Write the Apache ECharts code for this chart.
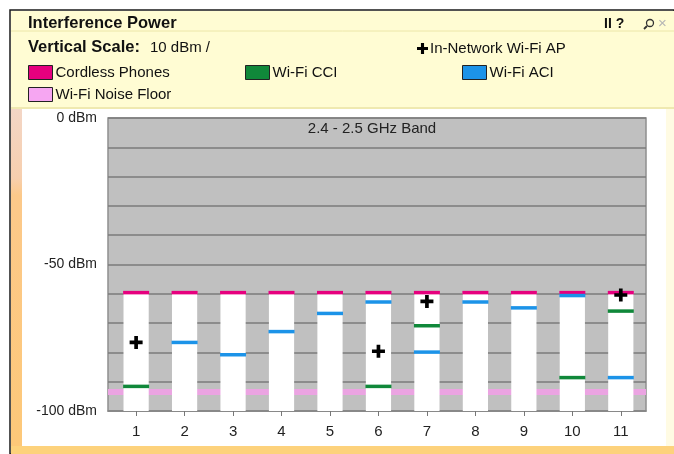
<!DOCTYPE html>
<html>
<head>
<meta charset="utf-8">
<script src="https://cdn.jsdelivr.net/npm/echarts@6/dist/echarts.min.js"></script>
<style>
  html, body { margin: 0; padding: 0; background: #ffffff; }
  #chart { width: 674px; height: 454px; }
</style>
</head>
<body>
<div id="chart"></div>
<script>
// Wi-Fi channels of the 2.4 GHz band
const channels = [1, 2, 3, 4, 5, 6, 7, 8, 9, 10, 11];
// Top of each channel's measured band (dBm)
const bandTop = [-59.6, -59.6, -59.6, -59.6, -59.6, -59.6, -59.6, -59.6, -59.6, -59.6, -59.6];
// Cordless phone interference per channel (dBm)
const cordlessPhones = [-59.6, -59.6, -59.6, -59.6, -59.6, -59.6, -59.6, -59.6, -59.6, -59.6, -59.6];
// Co-channel interference, only where present: [channel, dBm]
const wifiCCI = [[1, -91.6], [6, -91.6], [7, -70.9], [10, -88.6], [11, -65.9]];
// Adjacent-channel interference: [channel, dBm]
const wifiACI = [[2, -76.6], [3, -80.8], [4, -72.9], [5, -66.7], [6, -62.8], [7, -79.9],
                 [8, -62.8], [9, -64.8], [10, -60.6], [11, -88.6]];
// Own access points seen on the band: [channel, dBm]
const inNetworkAP = [[1, -76.6], [6, -79.6], [7, -62.6], [11, -60.4]];
// Noise floor across the band (dBm)
const noiseFloor = -93.5;
// Vertical axis range and labelled ticks
const yMin = -100, yMax = 0, yStep = 10;
const yLabelValues = [0, -50, -100];

const FONT = '"Liberation Sans", Arial, sans-serif';
const PLUS = 'path://M4.3,0H7.7V4.3H12V7.7H7.7V12H4.3V7.7H0V4.3H4.3Z';

const COLORS = {
  cordless: '#e6007e',
  cci: '#10883a',
  aci: '#1c93e8',
  noise: '#eba4e2',
  noiseLegend: '#f6a6f2'
};

const chart = echarts.init(document.getElementById('chart'), null, { renderer: 'canvas' });

const xMin = 0.42, xMax = 11.52;
const barHalf = 0.26;

function legendBox(name, color, left, top) {
  return {
    data: [{ name: name, icon: 'rect', itemStyle: { color: color, opacity: 1, borderColor: '#222', borderWidth: 1 } }],
    left: left, top: top,
    itemWidth: 24, itemHeight: 14, padding: 0,
    selectedMode: false,
    textStyle: { fontFamily: FONT, fontSize: 15, color: '#111', padding: [0, 0, 0, -2] }
  };
}

const option = {
  backgroundColor: '#ffffff',
  animation: false,
  graphic: [
    // panel frame
    { type: 'rect', z: -10, shape: { x: 10, y: 10, width: 664, height: 444 }, style: { fill: '#ffffff', stroke: '#1a1a1a', lineWidth: 1.5 } },
    // header band
    { type: 'rect', z: -9, shape: { x: 11, y: 11, width: 663, height: 97 }, style: { fill: '#fffcd3' } },
    { type: 'line', z: -8, shape: { x1: 11, y1: 31, x2: 674, y2: 31 }, style: { stroke: '#ece6a8', lineWidth: 1 } },
    { type: 'line', z: -8, shape: { x1: 11, y1: 108, x2: 674, y2: 108 }, style: { stroke: '#efe9b0', lineWidth: 2 } },
    // side and bottom strips
    { type: 'rect', z: -9, shape: { x: 11, y: 109, width: 11, height: 345 },
      style: { fill: new echarts.graphic.LinearGradient(0, 0, 0, 1, [
        { offset: 0, color: '#f3d6c6' }, { offset: 0.2, color: '#f7cfae' }, { offset: 0.25, color: '#fcc98a' }, { offset: 1, color: '#fdc878' }]) } },
    { type: 'rect', z: -9, shape: { x: 11, y: 446, width: 663, height: 8 }, style: { fill: '#fdd27c' } },
    { type: 'rect', z: -9, shape: { x: 666, y: 109, width: 8, height: 337 }, style: { fill: '#fffbe3' } },
    // header texts
    { type: 'text', x: 28, y: 15, style: { text: 'Interference Power', font: 'bold 16.5px ' + FONT, fill: '#111' } },
    { type: 'text', x: 28, y: 39, style: { text: 'Vertical Scale:', font: 'bold 16.5px ' + FONT, fill: '#111' } },
    { type: 'text', x: 150, y: 40, style: { text: '10 dBm /', font: '15px ' + FONT, fill: '#111' } },
    { type: 'text', x: 604, y: 17, style: { text: 'II ?', font: 'bold 14px ' + FONT, fill: '#111' } },
    { type: 'circle', shape: { cx: 650, cy: 23, r: 3.5 }, style: { fill: 'none', stroke: '#333', lineWidth: 1.3 } },
    { type: 'line', shape: { x1: 647, y1: 26, x2: 644, y2: 29 }, style: { stroke: '#333', lineWidth: 1.8 } },
    { type: 'text', x: 658, y: 16, style: { text: '×', font: '15px ' + FONT, fill: '#b5b5b5' } },
    // band caption inside plot
    { type: 'text', x: 372, y: 121, style: { text: '2.4 - 2.5 GHz Band', font: '15px ' + FONT, fill: '#222', align: 'center' } }
  ],
  legend: [
    legendBox('Cordless Phones', COLORS.cordless, 28, 65),
    legendBox('Wi-Fi CCI', COLORS.cci, 245, 65),
    legendBox('Wi-Fi ACI', COLORS.aci, 462, 65),
    legendBox('Wi-Fi Noise Floor', COLORS.noiseLegend, 28, 87),
    {
      data: [{ name: 'In-Network Wi-Fi AP', icon: PLUS, itemStyle: { color: '#000', opacity: 1 } }],
      left: 417, top: 41, itemWidth: 11, itemHeight: 11, padding: 0, selectedMode: false,
      textStyle: { fontFamily: FONT, fontSize: 15, color: '#111', padding: [0, 0, 0, -3] }
    }
  ],
  grid: {
    left: 108, top: 118, width: 538, height: 293,
    show: true, backgroundColor: '#c0c0c0', borderColor: '#8e8e8e', borderWidth: 1.5
  },
  xAxis: {
    type: 'value', min: xMin, max: xMax,
    axisLine: { onZero: false, lineStyle: { color: '#8a8a8a', width: 1.5 } },
    axisTick: { customValues: channels, length: 5, lineStyle: { color: '#777' } },
    axisLabel: { customValues: channels, margin: 13, fontFamily: FONT, fontSize: 15, color: '#222' },
    splitLine: { show: false }
  },
  yAxis: {
    type: 'value', min: yMin, max: yMax, interval: yStep,
    axisLine: { show: false }, axisTick: { show: false },
    axisLabel: {
      margin: 11, fontFamily: FONT, fontSize: 14, color: '#222',
      formatter: v => (yLabelValues.indexOf(v) >= 0 ? v + ' dBm' : '')
    },
    splitLine: { lineStyle: { color: '#7b7b7b', width: 1.5 } }
  },
  series: [
    {
      name: 'Wi-Fi Noise Floor', type: 'line', z: 1, symbol: 'none', silent: true,
      data: [[xMin, noiseFloor], [xMax, noiseFloor]],
      lineStyle: { color: COLORS.noise, width: 6 },
      itemStyle: { color: COLORS.noiseLegend }
    },
    {
      name: 'band', type: 'custom', z: 2, silent: true,
      data: channels.map((c, i) => [c, bandTop[i]]),
      renderItem: function (params, api) {
        const p0 = api.coord([api.value(0) - barHalf, api.value(1)]);
        const p1 = api.coord([api.value(0) + barHalf, yMin]);
        return { type: 'rect', shape: { x: p0[0], y: p0[1], width: p1[0] - p0[0], height: p1[1] - p0[1] },
                 style: { fill: '#ffffff' } };
      }
    },
    {
      name: 'Cordless Phones', type: 'scatter', z: 3, symbol: 'rect', symbolSize: [26, 3.5],
      data: channels.map((c, i) => [c, cordlessPhones[i]]),
      itemStyle: { color: COLORS.cordless, opacity: 1 }
    },
    {
      name: 'Wi-Fi ACI', type: 'scatter', z: 4, symbol: 'rect', symbolSize: [26, 3.5],
      data: wifiACI, itemStyle: { color: COLORS.aci, opacity: 1 }
    },
    {
      name: 'Wi-Fi CCI', type: 'scatter', z: 4, symbol: 'rect', symbolSize: [26, 3.5],
      data: wifiCCI, itemStyle: { color: COLORS.cci, opacity: 1 }
    },
    {
      name: 'In-Network Wi-Fi AP', type: 'scatter', z: 5, symbol: PLUS, symbolSize: 13,
      data: inNetworkAP, itemStyle: { color: '#000', opacity: 1 }
    }
  ]
};

chart.setOption(option);
</script>
</body>
</html>
